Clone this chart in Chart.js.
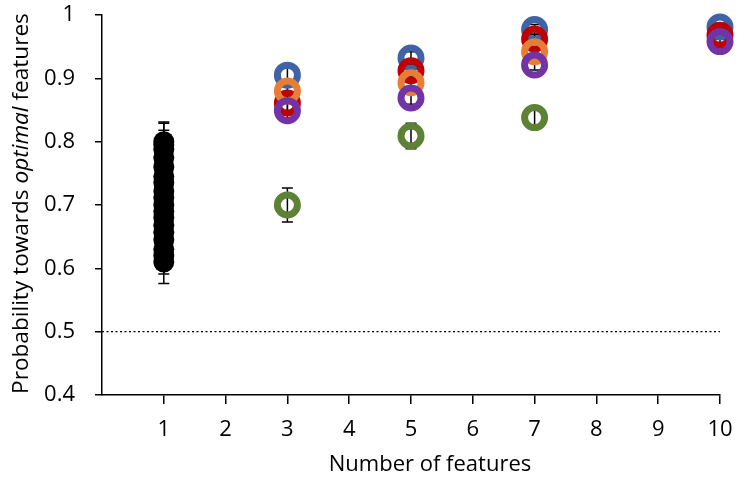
<!DOCTYPE html>
<html><head><meta charset="utf-8">
<script src="https://cdn.jsdelivr.net/npm/chart.js@4.4.1/dist/chart.umd.min.js"></script>
<style>html,body{margin:0;padding:0;background:#fff}canvas{display:block}</style>
</head><body>
<canvas id="c" width="739" height="486"></canvas>
<script>
const FONT = "'Open Sans', sans-serif";
const xTitle = 'Number of features';
const yTitleParts = [['Probability towards ', false], ['optimal', true], [' features', false]];
const xRange = [0, 10];
const yRange = [0.4, 1];
const chanceLevel = 0.5;

// single-feature condition (x = 1)
const singleX = 1;
const singleY = [0.800, 0.795, 0.788, 0.775, 0.760, 0.745, 0.735, 0.722, 0.712, 0.700, 0.690, 0.680, 0.668, 0.657, 0.645, 0.630, 0.620, 0.610];
const singleErr = [0.031, 0.034, 0.030, 0.028, 0.028, 0.027, 0.027, 0.026, 0.026, 0.026, 0.026, 0.026, 0.026, 0.027, 0.027, 0.028, 0.029, 0.034];

// multi-feature conditions
const multiX = [3, 5, 7, 10];
const blueY   = [0.905, 0.932, 0.977, 0.981];
const blueErr = [0.012, 0.010, 0.008, 0.006];
const redY    = [0.861, 0.912, 0.962, 0.968];
const redErr  = [0.012, 0.010, 0.008, 0.006];
const orangeY = [0.880, 0.893, 0.942, null];
const orangeErr = [0.012, 0.010, 0.008, null];
const purpleY = [0.849, 0.869, 0.921, 0.958];
const purpleErr = [0.012, 0.010, 0.008, 0.006];
const greenY  = [0.700, 0.809, 0.838, null];
const greenErr = [0.027, 0.020, 0.012, null];

const colors = {blue:'#3F63A6', red:'#C00000', orange:'#E67E35', purple:'#7233A6', green:'#5E8235'};

function pts(xs, ys){ const o=[]; xs.forEach((x,i)=>{ if(ys[i]!=null) o.push({x:x,y:ys[i]}); }); return o; }
function errs(ys, es){ return es.filter((e,i)=>ys[i]!=null); }

function ring(color, ys, es, order){
  return {data: pts(multiX, ys), errors: errs(ys, es), pointRadius:10, pointHoverRadius:10,
    pointBorderWidth:7, borderColor:color, pointBorderColor:color, backgroundColor:'rgba(0,0,0,0)',
    pointBackgroundColor:'rgba(0,0,0,0)', order:order, clip:false};
}

const errorBars = {
  id:'errorBars',
  beforeDatasetsDraw(chart){
    const ctx = chart.ctx, ys = chart.scales.y;
    ctx.save();
    ctx.strokeStyle = '#000'; ctx.lineWidth = 1.5;
    chart.data.datasets.forEach((ds, di)=>{
      if(!ds.errors) return;
      const meta = chart.getDatasetMeta(di);
      ds.data.forEach((p, j)=>{
        const e = ds.errors[j]; if(e==null) return;
        const px = meta.data[j].x;
        const t = ys.getPixelForValue(p.y + e), b = ys.getPixelForValue(p.y - e);
        ctx.beginPath();
        ctx.moveTo(px, t); ctx.lineTo(px, b);
        ctx.moveTo(px-5.5, t); ctx.lineTo(px+5.5, t);
        ctx.moveTo(px-5.5, b); ctx.lineTo(px+5.5, b);
        ctx.stroke();
      });
    });
    ctx.restore();
  }
};

const axisTitles = {
  id:'axisTitles',
  afterDraw(chart){
    const ctx = chart.ctx;
    const size = 22.6;
    const f = it => (it ? 'italic ' : '') + size + 'px ' + FONT;
    ctx.save();
    ctx.fillStyle = '#000'; ctx.textBaseline = 'middle';
    // x title
    ctx.font = '22px ' + FONT; ctx.textAlign = 'center';
    ctx.fillText(xTitle, 430, 465);
    // y title (mixed roman / italic)
    let total = 0;
    yTitleParts.forEach(([t, it])=>{ ctx.font = f(it); total += ctx.measureText(t).width; });
    ctx.translate(22, 203.5);
    ctx.rotate(-Math.PI/2);
    ctx.textAlign = 'left';
    let x = -total/2;
    yTitleParts.forEach(([t, it])=>{ ctx.font = f(it); ctx.fillText(t, x, 0); x += ctx.measureText(t).width; });
    ctx.restore();
  }
};

new Chart(document.getElementById('c'), {
  type:'scatter',
  data:{ datasets:[
    {data: singleY.map(v=>({x:singleX, y:v})), errors: singleErr, pointRadius:10.5, pointHoverRadius:10.5,
      pointBorderWidth:0, backgroundColor:'#000', borderColor:'#000', pointBackgroundColor:'#000', order:0, clip:false},
    ring(colors.green, greenY, greenErr, 1),
    ring(colors.purple, purpleY, purpleErr, 2),
    ring(colors.orange, orangeY, orangeErr, 3),
    ring(colors.red, redY, redErr, 4),
    ring(colors.blue, blueY, blueErr, 5),
    {data:[{x:xRange[0], y:chanceLevel},{x:xRange[1], y:chanceLevel}], showLine:true, pointRadius:0,
      borderColor:'#000', borderWidth:1.3, borderDash:[2,2.5], order:6}
  ]},
  options:{
    responsive:false, animation:false, devicePixelRatio:1,
    layout:{autoPadding:false, padding:{top:15, right:19, left:0, bottom:0}},
    plugins:{legend:{display:false}, tooltip:{enabled:false}},
    scales:{
      x:{type:'linear', min:xRange[0], max:xRange[1],
        afterBuildTicks(s){ s.ticks = s.ticks.filter(t=>t.value!==0); },
        afterFit(s){ s.height = 91; s.paddingLeft = 0; s.paddingRight = 0; },
        ticks:{stepSize:1, color:'#000', padding:13, font:{family:FONT, size:22}, maxRotation:0, autoSkip:false},
        grid:{drawOnChartArea:false, drawTicks:true, tickLength:9, color:'#000', lineWidth:1.5},
        border:{display:true, color:'#000', width:1.5},
        title:{display:false}
      },
      y:{min:yRange[0], max:yRange[1],
        afterFit(s){ s.width = 102; s.paddingTop = 0; s.paddingBottom = 0; },
        ticks:{stepSize:0.1, color:'#000', padding:20, font:{family:FONT, size:22}, callback:v=>String(+v.toFixed(1))},
        grid:{drawOnChartArea:false, drawTicks:true, tickLength:7, color:'#000', lineWidth:1.5},
        border:{display:true, color:'#000', width:1.5}
      }
    }
  },
  plugins:[errorBars, axisTitles]
});
</script>
</body></html>
